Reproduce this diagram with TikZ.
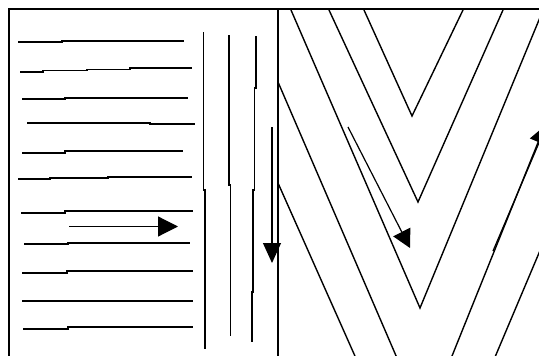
\documentclass[tikz,border=0pt]{standalone}
\usetikzlibrary{arrows.meta}
\begin{document}
\begin{tikzpicture}[x=1pt,y=-1pt,
  framestroke/.style={line width=2pt},
  hstroke/.style={line width=1.8pt},
  vstroke/.style={line width=1.8pt},
  veestroke/.style={line width=1.4pt,line join=miter},
  arrowstroke/.style={line width=1.2pt},
  bigtip/.style={-{Triangle[length=20pt,width=20pt]}}]
\useasboundingbox (0,0) rectangle (539,356);
\fill[white] (0,0) rectangle (539,356);
% frame
\draw[framestroke] (9,356) -- (9,9) -- (545,9);
\draw[framestroke] (278,9) -- (278,356);
% horizontal strokes, left panel
\draw[hstroke] (18,42) -- (62,42) -- (62,41) -- (184,41);
\draw[hstroke] (20,72) -- (43,72) -- (43,70.5) -- (87,70.5) -- (87,69.5) -- (130,69.5) -- (130,68) -- (192,68);
\draw[hstroke] (22,99) -- (65,99) -- (65,97.7) -- (188,97.7);
\draw[hstroke] (27,122.7) -- (150,122.7) -- (150,124) -- (195,124);
\draw[hstroke] (22,153) -- (65,153) -- (65,151.3) -- (183,151.3);
\draw[hstroke] (18,179) -- (50,179) -- (50,178.3) -- (108,178.3) -- (108,177) -- (192,177);
\draw[hstroke] (21,212.7) -- (65,212.7) -- (65,211) -- (193,211);
\draw[hstroke] (24,244.3) -- (68,244.3) -- (68,242.7) -- (190,242.7);
\draw[hstroke] (22,272.7) -- (67,272.7) -- (67,271) -- (193,271);
\draw[hstroke] (22,301) -- (193,301);
\draw[hstroke] (23,328.7) -- (68,328.7) -- (68,326.7) -- (193,326.7);
% vertical strokes
\draw[vstroke] (203.5,32) -- (203.5,190) -- (205,190) -- (205,349);
\draw[vstroke] (229,35) -- (229,185) -- (230.5,185) -- (230.5,336);
\draw[vstroke] (256,36) -- (256,88) -- (254.5,88) -- (254.5,190) -- (253,190) -- (253,292) -- (252,292) -- (252,342);
% arrows
\coordinate (ha0) at (69,226.5);
\coordinate (ha1) at (178,226.5);
\draw[arrowstroke,bigtip] (ha0) -- (ha1);
\coordinate (va0) at (272,127);
\coordinate (va1) at (272,263);
\draw[arrowstroke,-{Triangle[length=20pt,width=18pt]}] (va0) -- (va1);
% chevrons, right panel
\begin{scope}
\clip (279,10) rectangle (545,360);
\draw[veestroke] (364,10) -- (412,116) -- (463,10);
\draw[veestroke] (329,10) -- (418,202) -- (503,10);
\draw[veestroke] (291,10) -- (420,308) -- (543.5,9);
\draw[veestroke] (278,82) -- (425,423) -- (452,356) -- (560,88);
\draw[veestroke] (278,183) -- (427,518) -- (539,253) -- (560,203);
\coordinate (ma0) at (348,127);
\coordinate (ma1) at (410,248);
\draw[arrowstroke,-{Triangle[length=18pt,width=19pt]}] (ma0) -- (ma1);
\coordinate (ra0) at (493,251);
\coordinate (ra1) at (547,124);
\draw[arrowstroke,bigtip] (ra0) -- (ra1);
\end{scope}
\end{tikzpicture}
\end{document}
